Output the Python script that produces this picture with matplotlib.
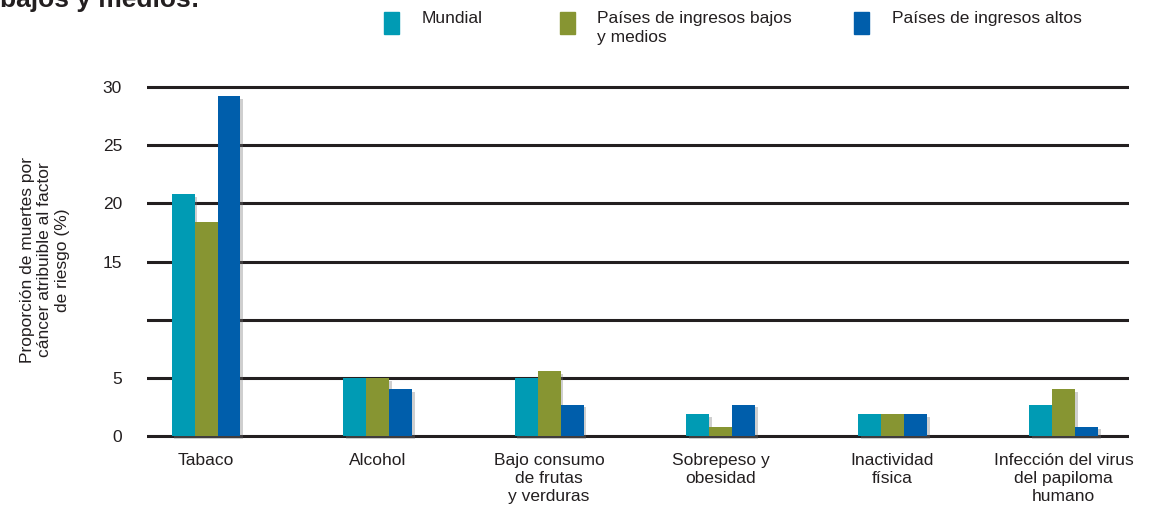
import numpy as np
import matplotlib.pyplot as plt
import matplotlib.patheffects as pe
from matplotlib.patches import Rectangle

plt.rcParams['font.family'] = ['Liberation Sans Narrow', 'Liberation Sans', 'DejaVu Sans']
plt.rcParams['text.color'] = '#231f20'
plt.rcParams['xtick.color'] = '#231f20'
plt.rcParams['ytick.color'] = '#231f20'

categorias = ['Tabaco', 'Alcohol', 'Bajo consumo\nde frutas\ny verduras',
              'Sobrepeso y\nobesidad', 'Inactividad\nfísica',
              'Infección del virus\ndel papiloma\nhumano']
mundial = [20.8, 5.0, 5.0, 1.9, 1.9, 2.7]
bajos_medios = [18.4, 5.0, 5.6, 0.8, 1.9, 4.0]
altos = [29.2, 4.0, 2.7, 2.7, 1.9, 0.8]
series = ['Mundial', 'Países de ingresos bajos\ny medios', 'Países de ingresos altos']
colores = ['#009bb4', '#879532', '#005eab']

yticks = [0, 5, 10, 15, 20, 25, 30]
ytick_labels = ['0', '5', '', '15', '20', '25', '30']

fig = plt.figure(figsize=(11.49, 5.2), dpi=100)
ax = fig.add_axes([147 / 1149, 1 - 439.5 / 520, (1129 - 147) / 1149, (439.5 - 81.2) / 520])

x = np.arange(len(categorias))
w = 0.134
sombra = [pe.SimplePatchShadow(offset=(2, -2), shadow_rgbFace='#777777', alpha=0.35), pe.Normal()]
for i, (vals, c) in enumerate(zip([mundial, bajos_medios, altos], colores)):
    bars = ax.bar(x + (i - 1) * w, vals, w, color=c, zorder=3, linewidth=0)
    for b in bars:
        b.set_path_effects(sombra)

for y in yticks:
    ax.axhline(y, color='#231f20', lw=2.2, zorder=2)

ax.set_xlim(-0.344, 5.38)
ax.set_ylim(-0.3, 30.5)
ax.set_yticks(yticks)
ax.set_yticklabels(ytick_labels, fontsize=12.5)
ax.set_xticks(x)
ax.set_xticklabels(categorias, fontsize=12.5, linespacing=1.25, va='top')
ax.tick_params(axis='y', length=0, pad=18)
ax.tick_params(axis='x', length=0, pad=10)
for s in ax.spines.values():
    s.set_visible(False)

fig.text(45 / 1149, 0.5, 'Proporción de muertes por\ncáncer atribuible al factor\nde riesgo (%)',
         rotation=90, ha='center', va='center', fontsize=12.5, linespacing=1.2)

# título recortado arriba, como en el original
fig.text(0.0, 1 - 7 / 520, 'bajos y medios:', fontsize=19, fontweight='bold',
         va='baseline', ha='left')

# leyenda
leg_x = [384, 560, 854]
txt_x = [422, 597, 892]
for sx, tx, c, s in zip(leg_x, txt_x, colores, series):
    fig.patches.append(Rectangle((sx / 1149, 1 - 34 / 520), 15 / 1149, 22 / 520,
                                 transform=fig.transFigure, color=c))
    fig.text(tx / 1149, 1 - 11 / 520, s, fontsize=12.5, va='top', ha='left', linespacing=1.3)

fig.savefig('out.png', dpi=100)
